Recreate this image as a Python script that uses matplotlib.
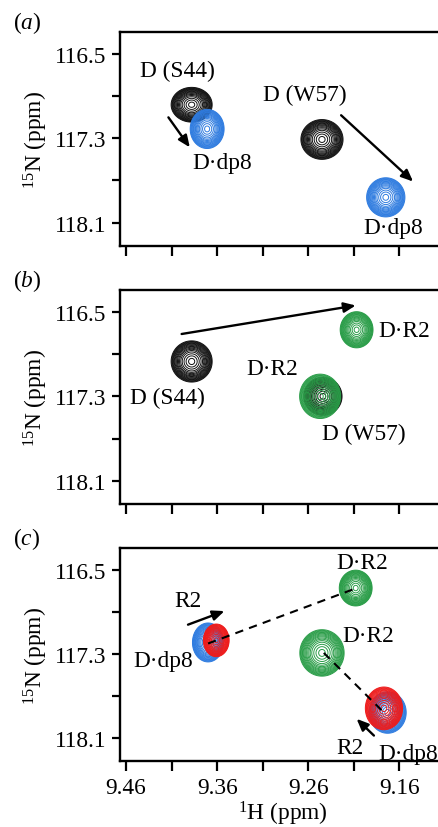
import numpy as np
import matplotlib
matplotlib.use('Agg')
import matplotlib.pyplot as plt
from matplotlib.ticker import FixedLocator

plt.rcParams['font.family'] = ['Liberation Serif', 'DejaVu Serif']
plt.rcParams['mathtext.fontset'] = 'custom'
plt.rcParams['mathtext.rm'] = 'Liberation Serif'
plt.rcParams['mathtext.it'] = 'Liberation Serif:italic'

# peaks: panel, 1H shift, 15N shift, width 1H, width 15N, colour
pk_panel = [0, 0, 0, 0, 1, 1, 1, 1, 2, 2, 2, 2, 2, 2]
pk_h = [9.388, 9.371, 9.245, 9.175, 9.388, 9.207, 9.244, 9.247, 9.370, 9.361, 9.208, 9.245, 9.173, 9.177]
pk_n = [116.98, 117.21, 117.31, 117.86, 116.97, 116.67, 117.30, 117.30, 117.19, 117.17, 116.67, 117.29, 117.86, 117.82]
pk_wh = [0.0075, 0.0062, 0.0077, 0.0070, 0.0075, 0.0060, 0.0070, 0.0075, 0.0057, 0.0047, 0.0060, 0.0081, 0.0068, 0.0068]
pk_wn = [0.055, 0.062, 0.063, 0.062, 0.065, 0.057, 0.060, 0.070, 0.062, 0.052, 0.057, 0.074, 0.066, 0.068]
pk_col = ['k', 'b', 'k', 'b', 'k', 'g', 'k', 'g', 'b', 'r', 'g', 'g', 'b', 'r']
colmap = {'k': '#111111', 'b': '#2f7ce0', 'g': '#2a9d48', 'r': '#ee1c1c'}

# labels: panel, text, 1H, 15N
lab_panel = [0, 0, 0, 0, 1, 1, 1, 1, 2, 2, 2, 2, 2, 2]
lab_text = ['D (S44)', 'D\u00b7dp8', 'D (W57)', 'D\u00b7dp8',
            'D\u00b7R2', 'D (S44)', 'D\u00b7R2', 'D (W57)',
            'D\u00b7R2', 'R2', 'D\u00b7dp8', 'D\u00b7R2', 'R2', 'D\u00b7dp8']
lab_h = [9.404, 9.355, 9.264, 9.167, 9.155, 9.415, 9.300, 9.199, 9.201, 9.392, 9.419, 9.194, 9.214, 9.150]
lab_n = [116.65, 117.53, 116.88, 118.15, 116.68, 117.31, 117.04, 117.65, 116.43, 116.79, 117.36, 117.12, 118.19, 118.25]

# arrows: panel, start (H, N), end (H, N)
arr_panel = [0, 0, 1, 2, 2]
arr_h0 = [9.4135, 9.224, 9.399, 9.392, 9.188]
arr_n0 = [117.10, 117.08, 116.71, 117.02, 118.08]
arr_h1 = [9.390, 9.145, 9.208, 9.352, 9.207]
arr_n1 = [117.385, 117.71, 116.44, 116.89, 117.92]

# dashed connections in panel c
dash_h0 = [9.370, 9.243]
dash_n0 = [117.20, 117.29]
dash_h1 = [9.210, 9.177]
dash_n1 = [116.68, 117.86]

panel_names = ['a', 'b', 'c']
xlim = (9.4666, 9.11)
ylim = (118.32, 116.29)
fs = 16.8

fig = plt.figure(figsize=(4.38, 8.28), dpi=100)
rects = [[0.274, 0.702, 0.742, 0.258],
         [0.274, 0.390, 0.742, 0.259],
         [0.274, 0.0801, 0.742, 0.2565]]

hx = np.linspace(xlim[1], xlim[0], 700)
ny = np.linspace(ylim[1], ylim[0], 700)
H, N = np.meshgrid(hx, ny)
# contour rings as fraction of the outermost ring radius (3 sigma)
ring_frac = np.array([0.15, 0.27, 0.37, 0.46, 0.53, 0.59, 0.64, 0.69, 0.73, 0.77,
                      0.81, 0.845, 0.88, 0.91, 0.94, 0.97, 1.0])
levels = np.sort(np.exp(-0.5 * (3 * ring_frac) ** 2))

for p in range(3):
    ax = fig.add_axes(rects[p])
    for i in range(len(pk_h)):
        if pk_panel[i] != p:
            continue
        z = np.exp(-0.5 * (((H - pk_h[i]) / pk_wh[i]) ** 2 + ((N - pk_n[i]) / pk_wn[i]) ** 2))
        ax.contour(H, N, z, levels=levels, colors=colmap[pk_col[i]], linewidths=0.7)
    for i in range(len(lab_text)):
        if lab_panel[i] != p:
            continue
        ax.text(lab_h[i], lab_n[i], lab_text[i], fontsize=fs, ha='center', va='center')
    for i in range(len(arr_h0)):
        if arr_panel[i] != p:
            continue
        ax.annotate('', xy=(arr_h1[i], arr_n1[i]), xytext=(arr_h0[i], arr_n0[i]),
                    arrowprops=dict(arrowstyle='-|>,head_length=0.7,head_width=0.3',
                                    color='k', lw=1.7, shrinkA=0, shrinkB=0))
    if p == 2:
        for i in range(len(dash_h0)):
            ax.plot([dash_h0[i], dash_h1[i]], [dash_n0[i], dash_n1[i]], '--', color='k',
                    lw=1.5, dashes=(4, 3))
    ax.set_xlim(xlim)
    ax.set_ylim(ylim)
    ax.xaxis.set_major_locator(FixedLocator([9.46, 9.36, 9.26, 9.16]))
    ax.xaxis.set_minor_locator(FixedLocator([9.41, 9.31, 9.21]))
    ax.yaxis.set_major_locator(FixedLocator([116.5, 117.3, 118.1]))
    ax.yaxis.set_minor_locator(FixedLocator([116.9, 117.7]))
    ax.tick_params(which='both', direction='out', width=1.6, labelsize=fs)
    ax.tick_params(axis='x', which='both', length=7, pad=5)
    ax.tick_params(axis='y', which='both', length=6, pad=4)
    ax.set_yticklabels(['116.5', '117.3', '118.1'])
    if p == 2:
        ax.set_xticklabels(['9.46', '9.36', '9.26', '9.16'])
        ax.set_xlabel(r'$^{1}$H (ppm)', fontsize=fs, labelpad=0)
    else:
        ax.set_xticklabels([])
    ax.set_ylabel(r'$^{15}$N (ppm)', fontsize=fs, labelpad=3)
    for s in ax.spines.values():
        s.set_linewidth(1.7)
    fig.text(0.03, rects[p][1] + rects[p][3] + 0.012, '(' + r'$\mathit{' + panel_names[p] + '}$' + ')',
             fontsize=fs, ha='left', va='center')

fig.savefig('out.png', dpi=100)
